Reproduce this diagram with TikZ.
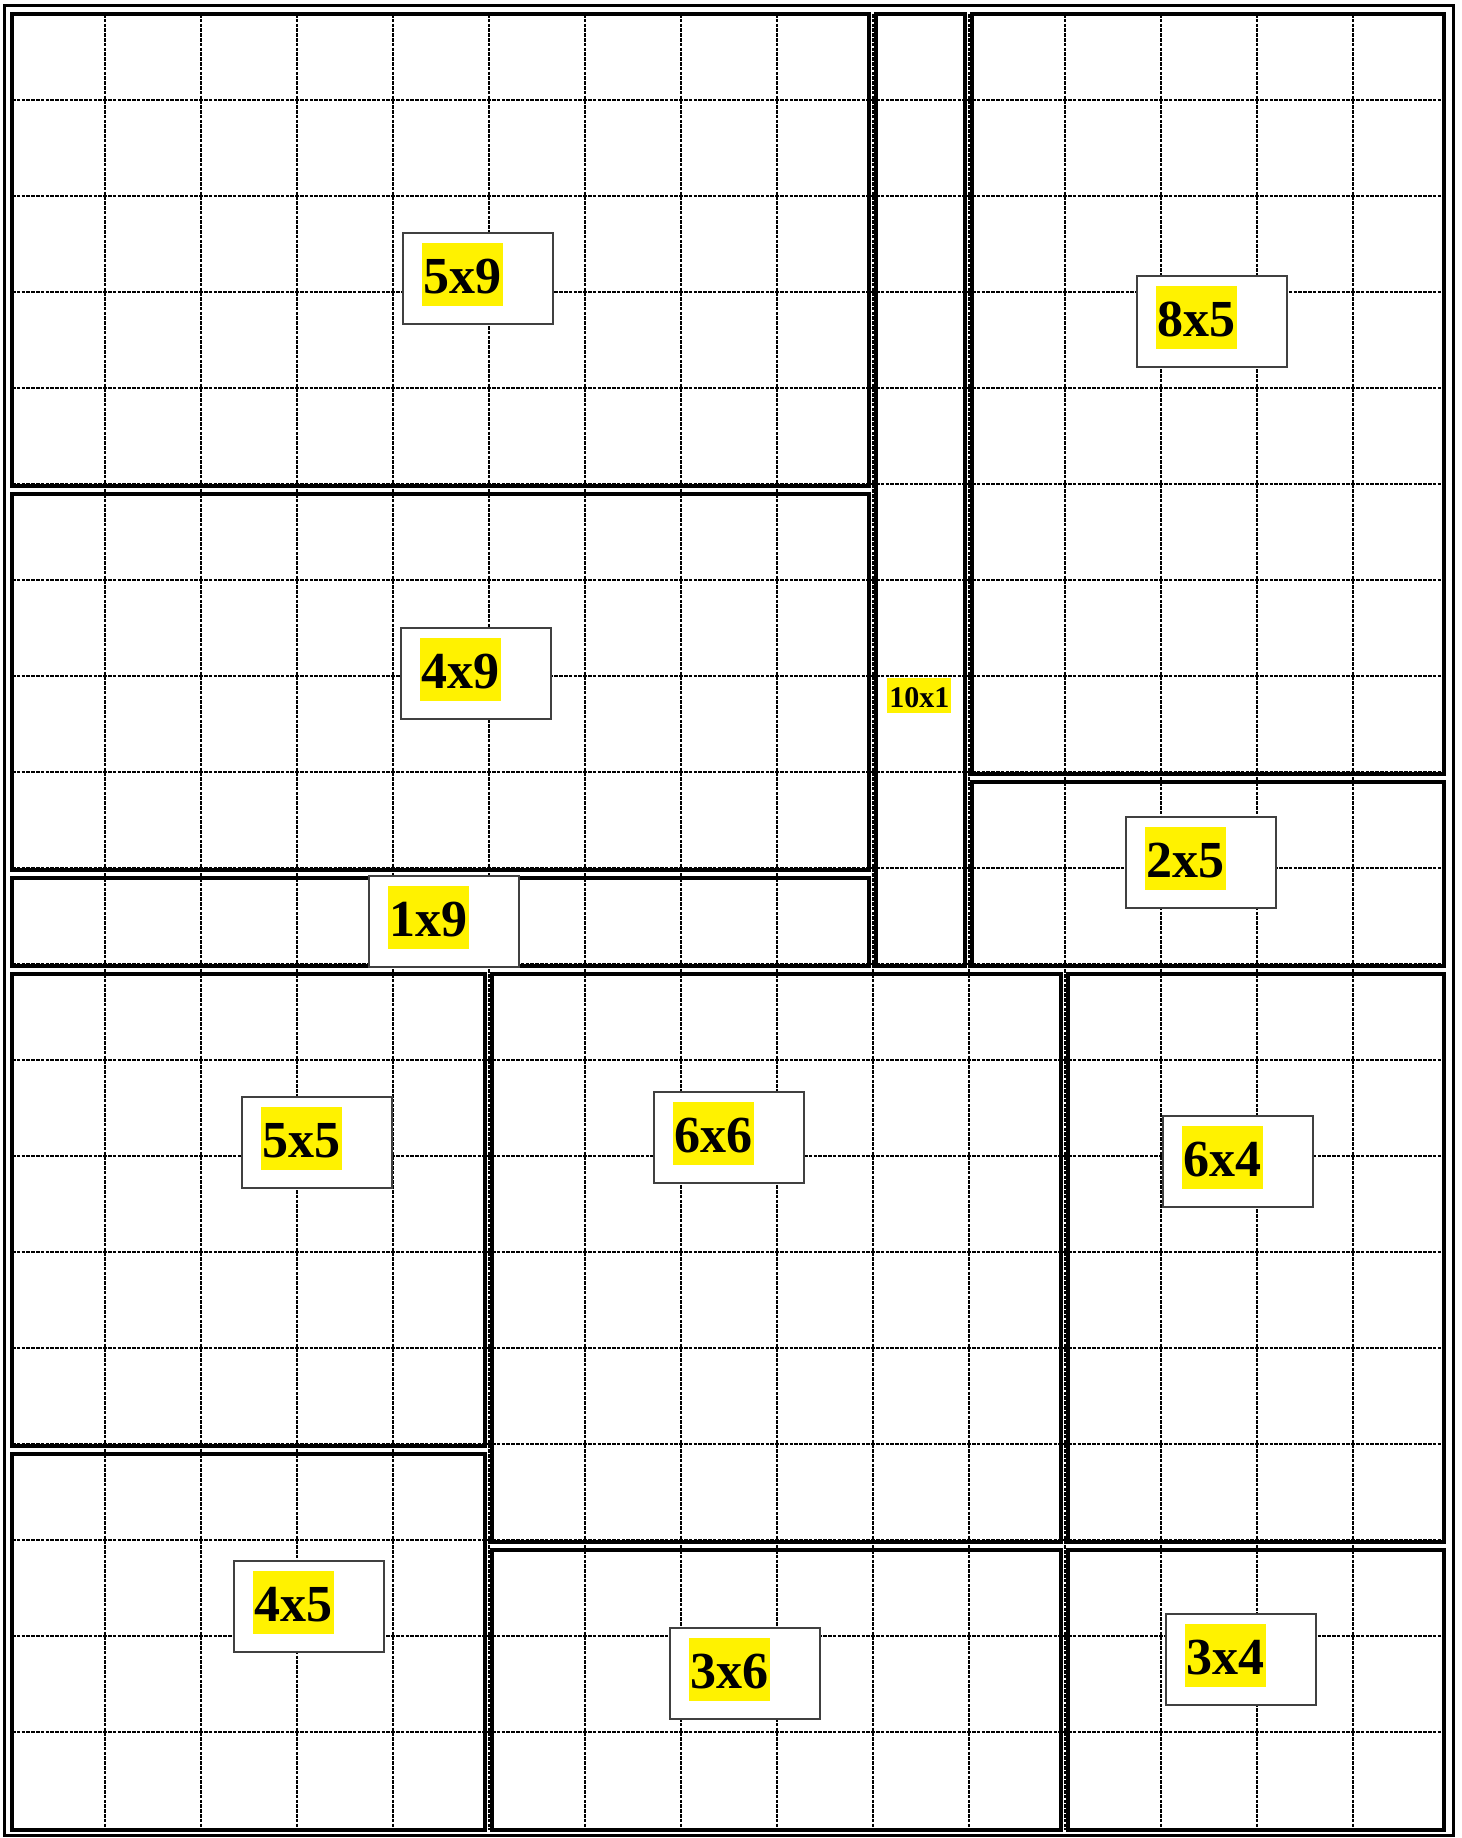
\documentclass[tikz,border=0pt]{standalone}
\usepackage{fontspec}
\setmainfont{Liberation Serif}
\begin{document}
\begin{tikzpicture}[x=0.5pt,y=-0.5pt,
  region/.style={line width=2pt},
  gridline/.style={line width=1.15pt, dash pattern=on 1.75pt off 0.65pt},
  lbox/.style={draw=black!75, line width=0.9pt, fill=white, minimum width=75pt, minimum height=45.5pt, anchor=north west, inner sep=0pt},
  hl/.style={fill=yellow, inner xsep=0.6pt, inner ysep=0pt, text height=25pt, text depth=6.5pt, font=\bfseries\fontsize{26}{26}\selectfont, anchor=north west},
  hlsmall/.style={fill=yellow, inner xsep=1pt, inner ysep=0pt, text height=14.5pt, text depth=3pt, font=\bfseries\fontsize{15}{15}\selectfont, anchor=north west},
]
\useasboundingbox (0,0) rectangle (1462,1838);
\fill[white] (0,0) rectangle (1462,1838);
% grid
\foreach \k in {1,...,14} \draw[gridline] ({9+\k*96},14) -- ({9+\k*96},1830);
\foreach \k in {1,...,18} \draw[gridline] (12,{4+\k*96}) -- (1444,{4+\k*96});
% outer border
\draw[line width=1.5pt] (4.5,5.5) rectangle (1453.5,1835);
% regions
\draw[region] (12,14) rectangle (869,486);
\draw[region] (12,494) rectangle (869,870);
\draw[region] (12,878) rectangle (869,966);
\draw[region] (876,14) rectangle (965,966);
\draw[region] (972,14) rectangle (1444,774);
\draw[region] (972,782) rectangle (1444,966);
\draw[region] (12,974) rectangle (485,1446);
\draw[region] (12,1454) rectangle (485,1830);
\draw[region] (492,974) rectangle (1061,1542);
\draw[region] (492,1550) rectangle (1061,1830);
\draw[region] (1068,974) rectangle (1444,1542);
\draw[region] (1068,1550) rectangle (1444,1830);
% labels
\foreach \n/\x/\y/\t in {a/402/232/5x9, b/400/627/4x9, c/368/875/1x9, d/1136/275/8x5, e/1125/816/2x5, f/241/1096/5x5, g/653/1091/6x6, h/1162/1115/6x4, i/233/1560/4x5, j/669/1627/3x6, k/1165/1613/3x4}{
  \node[lbox] (box\n) at (\x,\y) {};
  \node[hl] (txt\n) at ({\x+20},{\y+11}) {\t};
}
\node[hlsmall] (txtl) at (887,678) {10x1};
\end{tikzpicture}
\end{document}
